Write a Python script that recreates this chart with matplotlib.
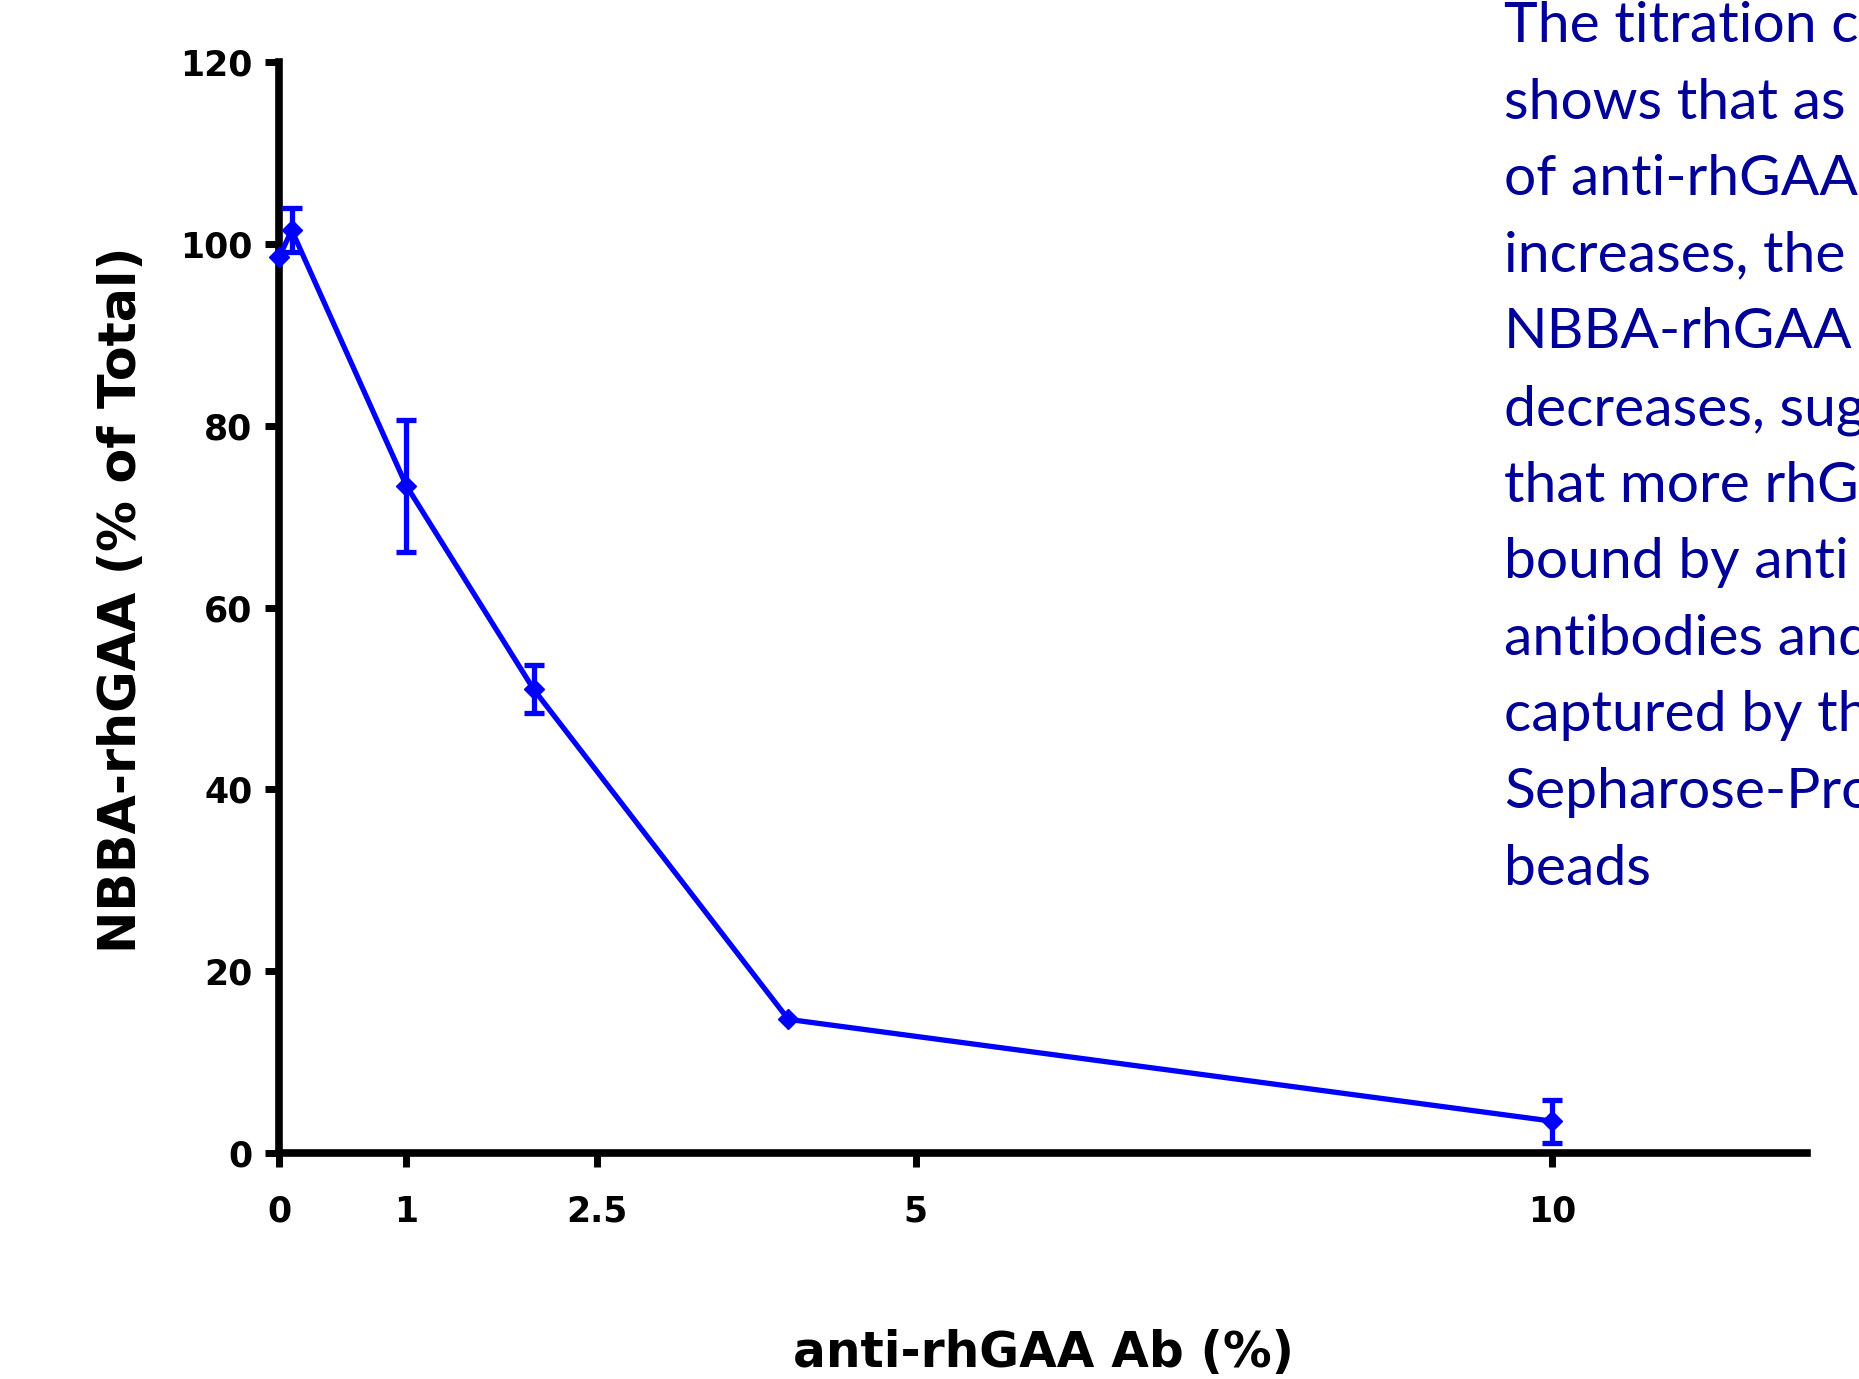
import matplotlib
matplotlib.use("Agg")
import matplotlib.pyplot as plt
import numpy as np

# data
ab_pct = [0, 0.1, 1, 2, 4, 10]
nbba = [98.5, 101.5, 73.4, 51.0, 14.7, 3.5]
sem = [0, 2.45, 7.25, 2.65, 0, 2.35]

xticks = [0, 1, 2.5, 5, 10]
xtick_labels = ["0", "1", "2.5", "5", "10"]
yticks = [0, 20, 40, 60, 80, 100, 120]

# the note runs off the right edge of the slide; only this much is visible
note_lines = [
    "The titration c",
    "shows that as",
    "of anti-rhGAA",
    "increases, the",
    "NBBA-rhGAA",
    "decreases, sug",
    "that more rhG",
    "bound by anti",
    "antibodies and",
    "captured by th",
    "Sepharose-Pro",
    "beads",
]

blue = "#0000FF"
W, H = 1859, 1379
fig = plt.figure(figsize=(W / 100, H / 100), dpi=100)

# axes box in pixels: x 279..1807, y 62..1153
ax = fig.add_axes([279 / W, 1 - 1153 / H, (1807 - 279) / W, (1153 - 62) / H])

ax.plot(ab_pct, nbba, color=blue, lw=3.8, marker="D", ms=10.5, zorder=3, clip_on=False)

x = np.array(ab_pct)
y = np.array(nbba)
e = np.array(sem)
m = e > 0
ax.errorbar(x[m], y[m], yerr=e[m], fmt="none", ecolor=blue, elinewidth=3.8,
            capsize=7.5, capthick=3.8, zorder=3, clip_on=False)

ax.set_xlim(0, 12)
ax.set_ylim(0, 120)
ax.set_xticks(xticks)
ax.set_xticklabels(xtick_labels)
ax.set_yticks(yticks)

for s in ["top", "right"]:
    ax.spines[s].set_visible(False)
for s in ["left", "bottom"]:
    ax.spines[s].set_linewidth(5.5)
    ax.spines[s].set_capstyle("projecting")

ax.tick_params(direction="out", length=10, width=5, color="black")
ax.tick_params(axis="x", pad=20)
ax.tick_params(axis="y", pad=9)
for lab in ax.get_xticklabels() + ax.get_yticklabels():
    lab.set_fontfamily("DejaVu Sans")
    lab.set_fontweight("bold")
    lab.set_fontsize(25)

ax.set_xlabel("anti-rhGAA Ab (%)", fontsize=35, fontweight="bold", family="DejaVu Sans")
ax.xaxis.label.set_va("baseline")
ax.xaxis.set_label_coords(0.5, (1153 - 1367) / (1153 - 62))

ax.set_ylabel("NBBA-rhGAA (% of Total)", fontsize=36.5, fontweight="bold", family="DejaVu Sans")
ax.yaxis.label.set_va("baseline")
ax.yaxis.set_label_coords((136 - 279) / (1807 - 279), (1153 - 600) / (1153 - 62))

# side note, clipped by the figure edge like the original slide
for i, line in enumerate(note_lines):
    fig.text(1504 / W, 1 - (42 + i * 76.6) / H, line, family="Lato", fontsize=41,
             color="#000099", ha="left", va="baseline")

fig.savefig("out.png", dpi=100)
